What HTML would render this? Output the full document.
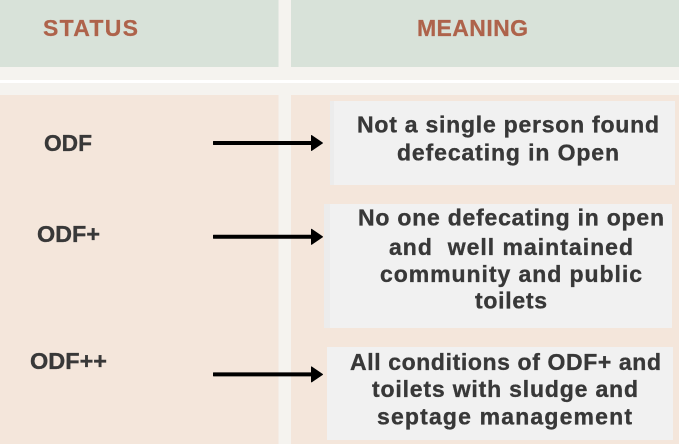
<!DOCTYPE html>
<html><head><meta charset="utf-8"><style>
html,body{margin:0;padding:0;background:#f5f3ef}
svg{display:block}
text{font-family:"Liberation Sans",sans-serif;font-weight:700;fill:#383838;stroke:#383838;stroke-width:.35}
.h{fill:#ae634b;stroke:#ae634b;stroke-width:.25}
</style></head><body>
<svg width="679" height="444" viewBox="0 0 679 444" xmlns="http://www.w3.org/2000/svg">
<rect width="679" height="444" fill="#f5f3ef"/>
<rect x="0" y="0" width="278.5" height="67" fill="#d8e2d9"/>
<rect x="291" y="0" width="388" height="67" fill="#d8e2d9"/>
<rect x="0" y="80" width="679" height="3" fill="#ffffff"/>
<rect x="0" y="95" width="278.5" height="349" fill="#f4e6db"/>
<rect x="291" y="95" width="388" height="349" fill="#f4e6db"/>

<rect x="330" y="101" width="345" height="84" fill="#f1f1f1"/>
<rect x="330" y="101" width="4" height="84" fill="#ececec"/>
<rect x="324" y="204" width="348" height="124" fill="#f1f1f1"/>
<rect x="324" y="204" width="6" height="124" fill="#ececec"/>
<rect x="327" y="347" width="346" height="93" fill="#f1f1f1"/>

<g fill="#000" stroke="#000" stroke-width="1" stroke-linejoin="round">
<rect x="213.500" y="141.500" width="99" height="3"/>
<path d="M311.500 135.500 L322.500 143 L311.500 150.500 Z"/>
<rect x="213.500" y="235.300" width="99" height="3"/>
<path d="M311.500 229.300 L322.500 236.800 L311.500 244.300 Z"/>
<rect x="213.500" y="372.900" width="99" height="3"/>
<path d="M311.500 366.900 L322.500 374.400 L311.500 381.900 Z"/>
</g>

<text class="h" x="43" y="36" font-size="23" textLength="95" lengthAdjust="spacing">STATUS</text>
<text class="h" x="417" y="36" font-size="23" textLength="111" lengthAdjust="spacing">MEANING</text>

<text x="44" y="151" font-size="23.500" textLength="48" lengthAdjust="spacingAndGlyphs">ODF</text>
<text x="37" y="242" font-size="23.500" textLength="63" lengthAdjust="spacingAndGlyphs">ODF+</text>
<text x="30" y="369" font-size="23.500" textLength="77" lengthAdjust="spacingAndGlyphs">ODF++</text>

<text x="357" y="132.500" font-size="23" textLength="302" lengthAdjust="spacing">Not a single person found</text>
<text x="397" y="160.500" font-size="23" textLength="222" lengthAdjust="spacing">defecating in Open</text>

<text x="358" y="225.500" font-size="23" textLength="306" lengthAdjust="spacing">No one defecating in open</text>
<text x="389" y="254.800" font-size="23" textLength="244" lengthAdjust="spacing" xml:space="preserve">and  well maintained</text>
<text x="380" y="281.800" font-size="23" textLength="262" lengthAdjust="spacing">community and public</text>
<text x="475" y="308.500" font-size="23" textLength="72" lengthAdjust="spacing">toilets</text>

<text x="350" y="370" font-size="23" textLength="311" lengthAdjust="spacing">All conditions of ODF+ and</text>
<text x="372" y="396.800" font-size="23" textLength="266" lengthAdjust="spacing">toilets with sludge and</text>
<text x="377" y="424.500" font-size="23" textLength="255" lengthAdjust="spacing">septage management</text>
</svg>
</body></html>
